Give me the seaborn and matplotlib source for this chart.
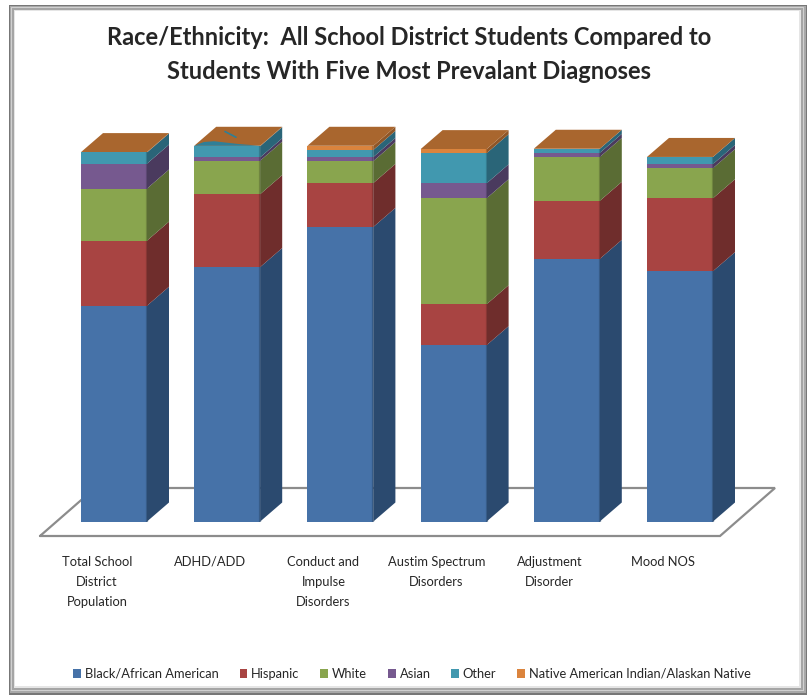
import matplotlib
matplotlib.use("Agg")
import matplotlib.pyplot as plt
from matplotlib.patches import Rectangle
import numpy as np
import pandas as pd
import seaborn as sns

categories = ["Total School\nDistrict\nPopulation", "ADHD/ADD", "Conduct and\nImpulse\nDisorders",
              "Austim Spectrum\nDisorders", "Adjustment\nDisorder", "Mood NOS"]
black = [58.0, 68.4, 79.2, 47.4, 70.6, 67.3]
hispanic = [17.5, 19.6, 11.8, 11.0, 15.6, 19.6]
white = [14.0, 9.0, 5.9, 28.5, 11.8, 8.1]
asian = [6.7, 0.9, 1.1, 4.0, 1.1, 1.1]
other = [3.0, 3.0, 1.9, 8.1, 1.1, 1.9]
native = [0.1, 0.1, 1.1, 1.1, 0.0, 0.0]
series_names = ["Black/African American", "Hispanic", "White", "Asian", "Other",
                "Native American Indian/Alaskan Native"]
series_values = [black, hispanic, white, asian, other, native]
front_colors = ["#4672A8", "#A84442", "#89A54E", "#76598F", "#4198AF", "#DB843D"]
side_colors = ["#2B4A6F", "#6F2D2C", "#5A6C34", "#4A3A5E", "#2A6578", "#8F5627"]
top_color = "#A9662E"
title_lines = "Race/Ethnicity:  All School District Students Compared to\nStudents With Five Most Prevalant Diagnoses"

W, H = 809, 696
PX_CAT = 113.2      # pixels per category
PX_VAL = 3.72       # pixels per value unit
X0, Y0 = 114, 521.5 # pixel of category 0 / value 0
BAR_W = 66 / PX_CAT
DX, DY = 22 / PX_CAT, 19 / PX_VAL

sns.set_theme(style="white")
plt.rcParams["font.family"] = ["Lato", "DejaVu Sans"]
fig = plt.figure(figsize=(W / 100, H / 100), dpi=100, facecolor="white")

# picture frame, outer to inner (left, top, right, bottom in figure pixels)
frame = [((9, 5, 807, 695), "#777777"), ((10, 6, 806, 693), "#a8a8a8"), ((11, 7, 804, 691), "#d0d0d0"),
         ((12, 8, 803, 690), "#a5a5a5"), ((14, 10, 801, 688), "#e5e5e5"), ((15, 11, 799, 686), "#ffffff")]
for (l, t, r, b), c in frame:
    fig.add_artist(Rectangle((l / W, 1 - b / H), (r - l) / W, (b - t) / H, transform=fig.transFigure,
                             fc=c, ec="none", zorder=-5))

ax = fig.add_axes([0, 0, 1, 1], facecolor="none")

df = pd.DataFrame({"category": categories})
cum = np.cumsum(np.array(series_values), axis=0)

# stacked front faces: tallest cumulative first
for i in range(len(series_names) - 1, -1, -1):
    df["v"] = cum[i]
    sns.barplot(data=df, x="category", y="v", color=front_colors[i], saturation=1,
                width=BAR_W, linewidth=0, ax=ax, zorder=4)

# depth: side and top faces derived from the same values
for k in range(len(categories)):
    xr = k + BAR_W / 2
    xl = k - BAR_W / 2
    base = 0.0
    for i in range(len(series_names)):
        top = cum[i][k]
        if top > base:
            ax.fill([xr, xr + DX, xr + DX, xr], [base, base + DY, top + DY, top],
                    color=side_colors[i], lw=0, zorder=3)
            # soft shaded strip where the front meets the side
            ax.plot([xr, xr], [base, top], color=side_colors[i], lw=1.6, alpha=0.55,
                    solid_capstyle="butt", zorder=4.5)
        base = top
    ax.fill([xl, xr, xr + DX, xl + DX], [base, base, base + DY, base + DY],
            color=top_color, lw=0, zorder=3.5)

# rendering artefact on the second bar's top face
k = 1
T = cum[-1][k]
xl = k - BAR_W / 2
wedge_u = [0.0, 1.0, 0.62, 0.22, 0.08]
wedge_v = [0.0, 0.0, 0.1, 0.24, 0.2]
ax.fill([xl + u * BAR_W + v * DX for u, v in zip(wedge_u, wedge_v)],
        [T + v * DY for v in wedge_v], color="#2F7F97", lw=0, zorder=3.6)
ax.plot([xl + 0.25 * BAR_W + 0.65 * DX, xl + 0.5 * BAR_W + 0.4 * DX],
        [T + 0.75 * DY, T + 0.45 * DY], color="#2F7F97", lw=1.2, zorder=3.6)

# floor outline
fx = lambda px: (px - X0) / PX_CAT
fy = lambda py: (Y0 - py) / PX_VAL
ax.plot([fx(40), fx(720), fx(775), fx(95), fx(40)], [fy(536), fy(536), fy(488), fy(488), fy(536)],
        color="#8C8C8C", lw=1.6, zorder=1, solid_joinstyle="miter")

ax.set_xlim(fx(0), fx(W))
ax.set_ylim(fy(H), fy(0))
ax.set_xlabel("")
ax.set_ylabel("")
ax.axis("off")

# category labels
for k, lab in enumerate(categories):
    ax.text(k - 17 / PX_CAT, fy(555.5), lab, ha="center", va="top", fontsize=9.3,
            color="#262626", linespacing=1.84)

ax.text(fx(409), fy(54.5), title_lines, ha="center", va="center", fontsize=17, fontweight="bold",
        color="#262626", linespacing=1.58)

handles = [Rectangle((0, 0), 1, 1, fc=c, ec="none") for c in front_colors]
ax.legend(handles, series_names, ncol=6, loc="center", bbox_to_anchor=(412 / W, 1 - 674 / H),
          bbox_transform=fig.transFigure, frameon=False, fontsize=9.25, handlelength=0.62, handleheight=0.62,
          handletextpad=0.3, columnspacing=1.6, labelcolor="#262626")

fig.savefig("out.png", dpi=100)
